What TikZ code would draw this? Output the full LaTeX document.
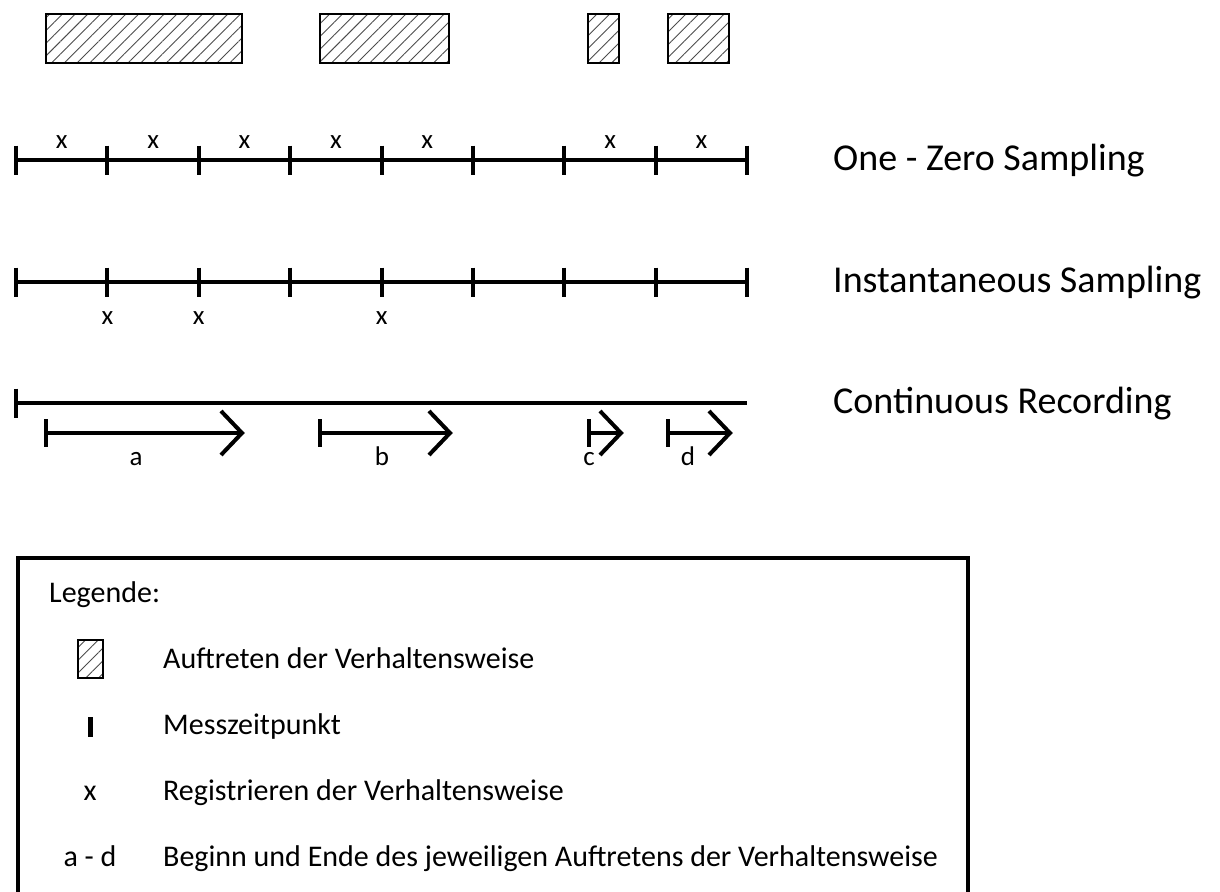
\documentclass[tikz,border=0pt]{standalone}
\usepackage{fontspec}
\setmainfont{Carlito}
\usetikzlibrary{patterns.meta}

\begin{document}
\begin{tikzpicture}[x=1pt,y=-1pt,
  axis/.style={line width=4pt},
  tickline/.style={line width=4pt},
  hatchbox/.style={draw, line width=2.2pt,
    pattern={Lines[angle=45,distance=9pt,line width=0.9pt]},
    pattern color=black!70},
  xmark/.style={font=\fontsize{27}{30}\selectfont, anchor=base, inner sep=0pt},
  method/.style={font=\fontsize{38}{44}\selectfont, anchor=base west, inner sep=0pt},
  legtext/.style={font=\fontsize{30}{36}\selectfont, anchor=base west, inner sep=0pt},
  legsym/.style={font=\fontsize{30}{36}\selectfont, anchor=base, inner sep=0pt},
  spanline/.style={line width=4pt},
]
\useasboundingbox (0,0) rectangle (1220,891);
\clip (0,0) rectangle (1220,891);

% occurrences of the behaviour
\path[hatchbox] (46,14) rectangle (242,63);
\path[hatchbox] (320,14) rectangle (449,63);
\path[hatchbox] (588,14) rectangle (619,63);
\path[hatchbox] (668,14) rectangle (729,63);

% measurement points on the two sampling time lines
\foreach \i in {0,...,8} {
  \coordinate (oz\i) at ({16+91.4*\i},160);
  \coordinate (is\i) at ({16+91.4*\i},282);
}

% One - Zero Sampling
\draw[axis] (oz0) -- (oz8);
\foreach \i in {0,...,8}
  \draw[tickline] (oz\i) ++(0,-14.5) -- ++(0,29);
\foreach \i in {0,1,2,3,4,6,7}
  \node[xmark] (ozx\i) at ({16+91.4*(\i+0.5)},148) {x};
\node[method] (ozlabel) at (833,170) {One - Zero Sampling};

% Instantaneous Sampling
\draw[axis] (is0) -- (is8);
\foreach \i in {0,...,8}
  \draw[tickline] (is\i) ++(0,-14.5) -- ++(0,29);
\foreach \i in {1,2,4}
  \node[xmark] (isx\i) at ({16+91.4*\i},324) {x};
\node[method] (islabel) at (833,292) {Instantaneous Sampling};

% Continuous Recording
\coordinate (cr0) at (16,403);
\coordinate (cr1) at (747,403);
\draw[axis] (cr0) -- (cr1);
\draw[tickline] (cr0) ++(0,-14.5) -- ++(0,29);
\node[method] (crlabel) at (833,413) {Continuous Recording};

% begin and end of each occurrence
\foreach \s/\e/\lx/\l in {46/242/136/a, 320/450/382/b, 589/621/589/c, 668/730/688/d} {
  \coordinate (beg\l) at (\s,433);
  \coordinate (end\l) at (\e,433);
  \draw[spanline] (beg\l) -- (end\l);
  \draw[spanline] (beg\l) ++(0,-14) -- ++(0,28);
  \draw[spanline, line join=miter] (end\l) ++(-21,-22) -- (end\l) -- ++(-21,22);
  \node[xmark] (lab\l) at (\lx,465) {\l};
}

% legend
\draw[line width=4pt] (18,1000) -- (18,558) -- (968,558) -- (968,1000);
\node[legtext] (legtitle) at (49,602) {Legende:};

\path[hatchbox, line width=1.6pt] (78,640) rectangle (103,678);
\node[legtext] (leg1) at (163,668) {Auftreten der Verhaltensweise};

\draw[line width=5pt] (90,717) -- (90,737);
\node[legtext] (leg2) at (163,734) {Messzeitpunkt};

\node[legsym] (sym3) at (90,800) {x};
\node[legtext] (leg3) at (163,800) {Registrieren der Verhaltensweise};

\node[legsym] (sym4) at (90,866) {a - d};
\node[legtext] (leg4) at (163,866) {Beginn und Ende des jeweiligen Auftretens der Verhaltensweise};
\end{tikzpicture}
\end{document}
